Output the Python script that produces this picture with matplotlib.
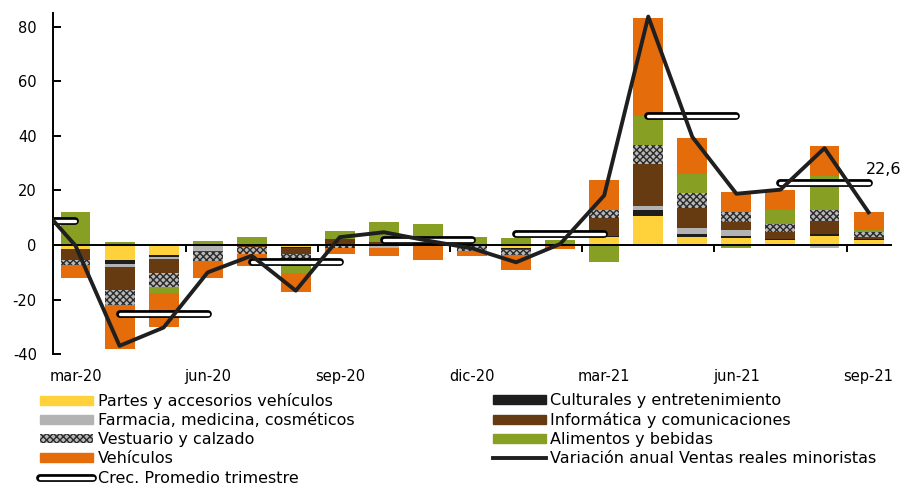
import numpy as np
import matplotlib
matplotlib.use("Agg")
import matplotlib.pyplot as plt
from matplotlib.patches import Patch
from matplotlib.lines import Line2D

# Meses (barras) mar-20 .. sep-21
meses = ["mar-20", "abr-20", "may-20", "jun-20", "jul-20", "ago-20", "sep-20",
         "oct-20", "nov-20", "dic-20", "ene-21", "feb-21", "mar-21", "abr-21",
         "may-21", "jun-21", "jul-21", "ago-21", "sep-21"]
etiquetas_x = ["mar-20", "jun-20", "sep-20", "dic-20", "mar-21", "jun-21", "sep-21"]

# Incidencias por rubro (pp)
partes = [-1.3, -5.6, -3.8, -0.3, 0.0, -0.7, 0.0, 0.0, 0.0, 0.0, -0.9, 0.0, 2.9, 10.6, 3.1, 2.6, 1.7, 3.2, 1.7]
culturales = [0.0, -1.5, -0.5, 0.0, 0.0, -0.4, 0.0, 0.0, 0.0, 0.0, -0.4, 0.0, 0.6, 2.1, 0.8, 0.8, 0.6, 0.9, 0.7]
farmacia = [-0.3, -0.9, -0.8, -1.8, 0.0, 0.0, 0.0, -1.2, 0.0, -0.5, 0.0, 0.0, 0.0, 1.6, 2.4, 2.2, 0.0, -1.2, 0.0]
informatica = [-3.7, -8.6, -5.2, -0.6, -0.8, -2.3, 2.3, 1.0, 0.8, 0.0, -0.4, 0.0, 6.4, 15.3, 7.2, 2.8, 2.4, 4.9, 0.7]
vestuario = [-2.1, -5.3, -5.1, -3.2, -2.4, -2.7, -1.2, 0.0, 0.0, -1.5, -1.8, 0.0, 2.8, 7.2, 5.7, 3.7, 3.1, 3.7, 1.6]
alimentos = [12.0, 1.0, -2.2, 1.6, 3.1, -4.0, 3.0, 7.4, 7.0, 3.1, 2.5, 1.9, -6.3, 10.5, 6.7, -1.0, 5.1, 12.6, 0.9]
vehiculos = [-4.5, -16.2, -12.5, -6.1, -4.3, -7.2, -1.9, -2.8, -5.4, -1.9, -5.6, -1.6, 11.0, 35.9, 13.4, 7.3, 7.1, 10.9, 6.5]

# Variacion anual ventas reales minoristas, feb-20 .. sep-21
variacion = [18.0, -0.2, -36.9, -30.2, -10.0, -3.9, -16.7, 2.9, 4.7, 1.6, -1.2,
             -6.3, 0.4, 18.2, 83.7, 39.6, 18.8, 20.3, 35.5, 12.0]

# Crecimiento promedio trimestral, 1T20 .. 3T21
trimestre = [9.0, -25.3, -6.3, 1.7, 4.1, 47.2, 22.6]

series = [
    ("Partes y accesorios vehículos", partes, "#FFD13A", None),
    ("Culturales y entretenimiento", culturales, "#1E1E1E", None),
    ("Farmacia, medicina, cosméticos", farmacia, "#B3B3B3", None),
    ("Informática y comunicaciones", informatica, "#663B12", None),
    ("Vestuario y calzado", vestuario, "#B8B8B8", "xxxxx"),
    ("Alimentos y bebidas", alimentos, "#87A024", None),
    ("Vehículos", vehiculos, "#E46C0A", None),
]

plt.rcParams["font.family"] = "DejaVu Sans"
plt.rcParams["axes.unicode_minus"] = False
plt.rcParams["hatch.linewidth"] = 1.0

fig = plt.figure(figsize=(9.06, 4.87), dpi=100)
ax = fig.add_axes([0.059, 0.2725, 0.924, 0.7008])

x = np.arange(len(meses))
width = 0.68
pos_bottom = np.zeros(len(meses))
neg_bottom = np.zeros(len(meses))
for label, vals, color, hatch in series:
    vals = np.array(vals)
    pos = np.where(vals > 0, vals, 0)
    neg = np.where(vals < 0, vals, 0)
    for part, bottom in ((pos, pos_bottom), (neg, neg_bottom)):
        if hatch:
            ax.bar(x, part, width, bottom=bottom, facecolor=color, edgecolor="#2a2a2a",
                   hatch=hatch, linewidth=0, zorder=2)
        else:
            ax.bar(x, part, width, bottom=bottom, color=color, linewidth=0, zorder=2)
    pos_bottom += pos
    neg_bottom += neg

# promedio trimestral: cada trimestre une su primer y ultimo mes
for q, val in enumerate(trimestre):
    xs = [3 * q - 2, 3 * q]
    ax.plot(xs, [val, val], color="black", lw=5.6, solid_capstyle="round", zorder=4)
    ax.plot(xs, [val, val], color="white", lw=2.4, solid_capstyle="round", zorder=4.1)

x_var = np.arange(-1, len(meses))
ax.plot(x_var, variacion, color="#1F1F1F", lw=2.8, zorder=5)

ax.text(17.95, 27.8, "22,6", fontsize=11.5, va="center", ha="left", clip_on=False)

ax.set_xlim(-0.5, 18.5)
ax.set_ylim(-40, 85)
ax.set_yticks(range(-40, 81, 20))
ax.tick_params(axis="y", direction="in", length=6, width=1.4, pad=12, labelsize=10.5)

ax.spines["top"].set_visible(False)
ax.spines["right"].set_visible(False)
ax.spines["left"].set_linewidth(1.4)
ax.spines["bottom"].set_linewidth(1.4)
ax.spines["bottom"].set_position(("data", 0))
ax.spines["bottom"].set_zorder(3)

ax.set_xticks(range(0, len(meses), 3))
ax.set_xticklabels(etiquetas_x)
ax.set_xticks(np.arange(2.5, 18, 3), minor=True)
ax.tick_params(axis="x", which="major", length=0, pad=89, labelsize=10.5)
ax.tick_params(axis="x", which="minor", direction="out", length=5, width=1.4)

# leyenda en dos columnas
col1 = [
    (Patch(color=series[0][2]), series[0][0]),
    (Patch(color=series[2][2]), series[2][0]),
    (Patch(facecolor=series[4][2], edgecolor="#2a2a2a", hatch="xxxxx", linewidth=0), series[4][0]),
    (Patch(color=series[6][2]), series[6][0]),
    ((Line2D([], [], color="black", lw=5.6, solid_capstyle="round"),
      Line2D([], [], color="white", lw=2.4, solid_capstyle="round")), "Crec. Promedio trimestre"),
]
col2 = [
    (Patch(color=series[1][2]), series[1][0]),
    (Patch(color=series[3][2]), series[3][0]),
    (Patch(color=series[5][2]), series[5][0]),
    (Line2D([], [], color="#1F1F1F", lw=2.8), "Variación anual Ventas reales minoristas"),
]
leg_kw = dict(loc="upper left", frameon=False, fontsize=11.5, handlelength=3.3,
              handleheight=0.45, handletextpad=0.3, labelspacing=0.26,
              borderpad=0, borderaxespad=0)
fig.legend([h for h, _ in col1], [l for _, l in col1],
           bbox_to_anchor=(40 / 906, 1 - 393 / 487), **leg_kw)
fig.legend([h for h, _ in col2], [l for _, l in col2],
           bbox_to_anchor=(493 / 906, 1 - 393 / 487), **leg_kw)

fig.savefig("out.png", dpi=100)
